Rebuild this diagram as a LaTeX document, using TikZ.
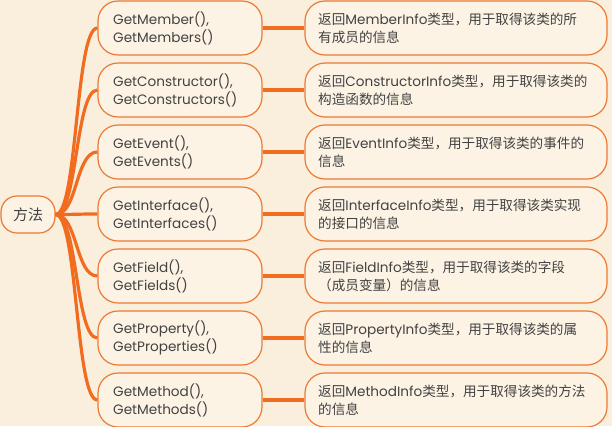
\documentclass[tikz,border=0pt]{standalone}
\usepackage{fontspec}
\setmainfont{Poppins}
\newfontfamily\zhfont{Noto Sans CJK SC}
\newcommand\zh[1]{{\zhfont #1}}
\definecolor{bgc}{RGB}{250,239,220}
\definecolor{boxfill}{RGB}{252,243,229}
\definecolor{boxline}{RGB}{236,122,52}
\definecolor{connc}{RGB}{242,108,32}
\definecolor{txtc}{RGB}{66,66,66}
\begin{document}
\begin{tikzpicture}[x=1pt,y=-1pt,
  every node/.style={font=\fontsize{13.6}{18}\selectfont, text=txtc},
  lbox/.style={draw=boxline, line width=1.2pt, fill=boxfill, rounded corners=20pt, minimum width=164pt, minimum height=54pt, inner sep=0pt},
  rbox/.style={draw=boxline, line width=1.2pt, fill=boxfill, rounded corners=20pt, minimum width=302pt, minimum height=54pt, inner sep=0pt},
  rootbox/.style={draw=boxline, line width=1.2pt, fill=boxfill, rounded corners=16pt, minimum width=54pt, minimum height=37pt, inner sep=0pt, font=\fontsize{15}{18}\selectfont},
  txt/.style={anchor=west, align=left, inner sep=0pt},
  conn/.style={draw=connc, line width=3.2pt},
  link/.style={draw=connc, line width=3.4pt}]
\useasboundingbox[fill=bgc] (0,0) rectangle (612,426);

\node[rootbox] (root) at (28,214.5) {\zh{方法}};

% row 1
\node[lbox] (l1) at (180,28) {};
\node[txt] (lt1) at (113,28) {GetMember(),\\GetMembers()};
\node[rbox] (r1) at (456,28) {};
\node[txt] (rt1) at (318,28) {\zh{返回}MemberInfo\zh{类型，用于取得该类的所}\\\zh{有成员的信息}};
% row 2
\node[lbox] (l2) at (180,90) {};
\node[txt] (lt2) at (113,90) {GetConstructor(),\\GetConstructors()};
\node[rbox] (r2) at (456,90) {};
\node[txt] (rt2) at (318,90) {\zh{返回}ConstructorInfo\zh{类型，用于取得该类的}\\\zh{构造函数的信息}};
% row 3
\node[lbox] (l3) at (180,152) {};
\node[txt] (lt3) at (113,152) {GetEvent(),\\GetEvents()};
\node[rbox] (r3) at (456,152) {};
\node[txt] (rt3) at (318,152) {\zh{返回}EventInfo\zh{类型，用于取得该类的事件的}\\\zh{信息}};
% row 4
\node[lbox] (l4) at (180,214) {};
\node[txt] (lt4) at (113,214) {GetInterface(),\\GetInterfaces()};
\node[rbox] (r4) at (456,214) {};
\node[txt] (rt4) at (318,214) {\zh{返回}InterfaceInfo\zh{类型，用于取得该类实现}\\\zh{的接口的信息}};
% row 5
\node[lbox] (l5) at (180,276) {};
\node[txt] (lt5) at (113,276) {GetField(),\\GetFields()};
\node[rbox] (r5) at (456,276) {};
\node[txt] (rt5) at (318,276) {\zh{返回}FieldInfo\zh{类型，用于取得该类的字段}\\\zh{（成员变量）的信息}};
% row 6
\node[lbox] (l6) at (180,338) {};
\node[txt] (lt6) at (113,338) {GetProperty(),\\GetProperties()};
\node[rbox] (r6) at (456,338) {};
\node[txt] (rt6) at (318,338) {\zh{返回}PropertyInfo\zh{类型，用于取得该类的属}\\\zh{性的信息}};
% row 7
\node[lbox] (l7) at (180,400) {};
\node[txt] (lt7) at (113,400) {GetMethod(),\\GetMethods()};
\node[rbox] (r7) at (456,400) {};
\node[txt] (rt7) at (318,400) {\zh{返回}MethodInfo\zh{类型，用于取得该类的方法}\\\zh{的信息}};

\foreach \i in {1,...,7}{
  \draw[conn] (root.east) .. controls +(22,0) and +(-22,0) .. (l\i.west);
  \draw[link] (l\i.east) -- (r\i.west);
}
\end{tikzpicture}
\end{document}
